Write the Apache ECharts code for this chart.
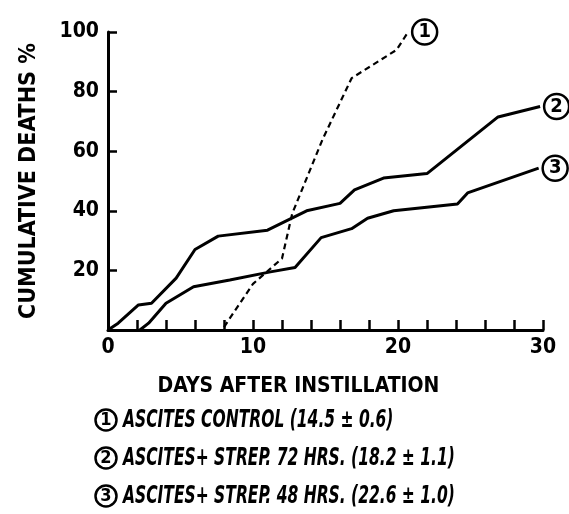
<!DOCTYPE html>
<html>
<head>
<meta charset="utf-8">
<script src="https://cdn.jsdelivr.net/npm/echarts@6/dist/echarts.min.js"></script>
<style>
html,body{margin:0;padding:0;background:#fff;}
#chart{width:569px;height:514px;}
</style>
</head>
<body>
<div id="chart"></div>
<script>
// ---- data (days after instillation, cumulative deaths %) ----
const controlDays   = [8, 10, 12, 12.7, 14.8, 16.8, 19.9, 20.7];
const controlDeaths = [1, 15.5, 24, 39, 64, 84.5, 94, 100];

const strep72Days   = [0, 0.7, 2.1, 3, 4.7, 6, 7.6, 11, 13.7, 16, 17, 19, 22, 26.9, 29.8];
const strep72Deaths = [0, 2.3, 8.4, 9, 17.4, 27, 31.5, 33.5, 40, 42.5, 47, 51, 52.5, 71.5, 75];

const strep48Days   = [2.2, 2.8, 4, 5.9, 8.4, 11.2, 12.9, 14.7, 16.8, 17.9, 19.7, 24.1, 24.8, 29.7];
const strep48Deaths = [0, 2.3, 9, 14.5, 16.8, 19.5, 21, 31, 34, 37.5, 40, 42.3, 46, 54.3];

const seriesNumbers = ['1', '2', '3'];
const legendTexts = [
  'ASCITES CONTROL (14.5 ± 0.6)',
  'ASCITES+ STREP. 72 HRS. (18.2 ± 1.1)',
  'ASCITES+ STREP. 48 HRS. (22.6 ± 1.0)'
];
const xAxisTitle = 'DAYS AFTER INSTILLATION';
const yAxisTitle = 'CUMULATIVE DEATHS %';

const FONT = '"DejaVu Sans Condensed", "Liberation Sans Narrow", sans-serif';

function zip(xs, ys) { return xs.map((x, i) => [x, ys[i]]); }

const circleStyle = {
  width: 25, height: 25, lineHeight: 25, align: 'center', verticalAlign: 'middle',
  borderColor: '#000', borderWidth: 2.5, borderRadius: 15,
  fontSize: 20, fontWeight: 'bold', fontFamily: FONT, color: '#000'
};

function endLabel(num) {
  return {
    show: true,
    distance: 4,
    formatter: '{c|' + num + '}',
    rich: { c: circleStyle }
  };
}

const chart = echarts.init(document.getElementById('chart'), null, { renderer: 'canvas' });

const legendGraphics = [];
legendTexts.forEach((t, i) => {
  const cy = 420 + i * 38;
  legendGraphics.push({
    type: 'text',
    x: 106, y: cy,
    style: {
      text: '{n|' + seriesNumbers[i] + '}',
      align: 'center', verticalAlign: 'middle',
      rich: {
        n: {
          width: 21, height: 21, lineHeight: 21, align: 'center',
          borderColor: '#000', borderWidth: 2.5, borderRadius: 13,
          fontSize: 18, fontWeight: 'bold', fontFamily: FONT, color: '#000'
        }
      }
    }
  });
  legendGraphics.push({
    type: 'text',
    x: 123, y: cy,
    scaleX: 0.69,
    style: {
      text: t,
      verticalAlign: 'middle',
      fontSize: 25, fontStyle: 'italic', fontWeight: 'bold', fontFamily: FONT, fill: '#000'
    }
  });
});

chart.setOption({
  animation: false,
  backgroundColor: '#fff',
  grid: { left: 108, right: 26, top: 32, bottom: 184 },
  xAxis: {
    type: 'value',
    min: 0, max: 30, interval: 2,
    name: xAxisTitle,
    nameLocation: 'middle',
    nameGap: 46,
    nameTextStyle: {
      fontFamily: FONT, fontWeight: 'bold', fontSize: 21, color: '#000',
      padding: [0, 54, 0, 0]
    },
    axisLine: { lineStyle: { color: '#000', width: 3 } },
    axisTick: { inside: true, length: 10, lineStyle: { color: '#000', width: 2.5 } },
    axisLabel: {
      margin: 7,
      fontFamily: FONT, fontWeight: 'bold', fontSize: 21, color: '#000',
      formatter: v => (v % 10 === 0 ? String(v) : '')
    },
    splitLine: { show: false }
  },
  yAxis: {
    type: 'value',
    min: 0, max: 100, interval: 20,
    name: yAxisTitle,
    nameLocation: 'middle',
    nameGap: 67,
    nameRotate: 90,
    nameTextStyle: { fontFamily: FONT, fontWeight: 'bold', fontSize: 23, color: '#000' },
    axisLine: { lineStyle: { color: '#000', width: 3 } },
    axisTick: { inside: true, length: 9, lineStyle: { color: '#000', width: 2.5 } },
    axisLabel: {
      margin: 9,
      fontFamily: FONT, fontWeight: 'bold', fontSize: 21, color: '#000',
      formatter: v => (v === 0 ? '' : String(v))
    },
    splitLine: { show: false }
  },
  series: [
    {
      name: legendTexts[0], type: 'line', data: zip(controlDays, controlDeaths),
      symbol: 'none', clip: false,
      lineStyle: { color: '#000', width: 2.2, type: [6, 4] },
      endLabel: endLabel(seriesNumbers[0])
    },
    {
      name: legendTexts[1], type: 'line', data: zip(strep72Days, strep72Deaths),
      symbol: 'none', clip: false,
      lineStyle: { color: '#000', width: 3 },
      endLabel: endLabel(seriesNumbers[1])
    },
    {
      name: legendTexts[2], type: 'line', data: zip(strep48Days, strep48Deaths),
      symbol: 'none', clip: false,
      lineStyle: { color: '#000', width: 3 },
      endLabel: endLabel(seriesNumbers[2])
    }
  ],
  graphic: legendGraphics
});
</script>
</body>
</html>
